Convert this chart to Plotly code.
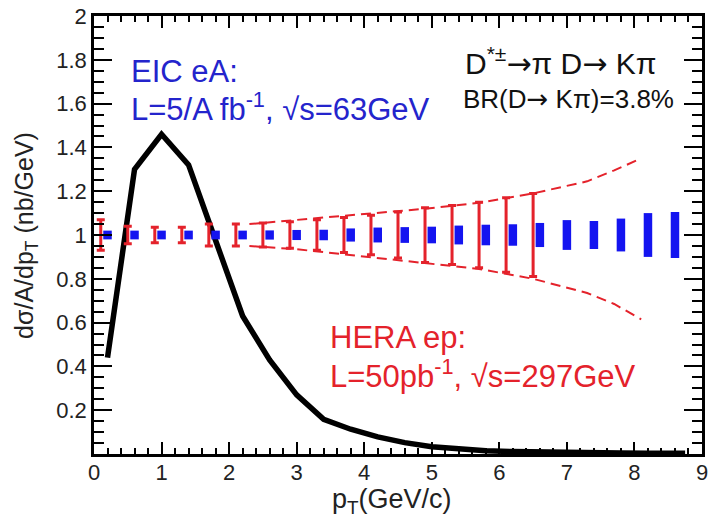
import plotly.graph_objects as go

# ---- data ----
curve_pt = [0.2, 0.6, 1.0, 1.4, 1.8, 2.2, 2.6, 3.0, 3.4, 3.8, 4.2, 4.6, 5.0, 5.4,
            5.8, 6.2, 6.6, 7.0, 7.4, 7.8, 8.2, 8.6, 8.75]
curve_xs = [0.44, 1.30, 1.46, 1.32, 0.975, 0.63, 0.43, 0.27, 0.158, 0.113, 0.078,
            0.052, 0.033, 0.022, 0.015, 0.011, 0.008, 0.006, 0.005, 0.004, 0.003,
            0.003, 0.003]

eic_pt = [0.2, 0.6, 1.0, 1.4, 1.8, 2.2, 2.6, 3.0, 3.4, 3.8, 4.2, 4.6, 5.0, 5.4,
          5.8, 6.2, 6.6, 7.0, 7.4, 7.8, 8.2, 8.6]
eic_val = [1.0] * 22
eic_err = [0.02, 0.02, 0.02, 0.02, 0.02, 0.02, 0.021, 0.023, 0.024, 0.03, 0.034,
           0.036, 0.038, 0.043, 0.047, 0.049, 0.055, 0.068, 0.064, 0.075, 0.1, 0.105]

hera_pt = [0.1, 0.5, 0.9, 1.3, 1.7, 2.1, 2.5, 2.9, 3.3, 3.7, 4.1, 4.5, 4.9, 5.3,
           5.7, 6.1, 6.5]
hera_val = [1.0] * 17
hera_err = [0.07, 0.04, 0.035, 0.035, 0.05, 0.05, 0.055, 0.06, 0.07, 0.08, 0.09,
            0.105, 0.125, 0.135, 0.15, 0.17, 0.19]

env_pt = [2.3, 3.0, 3.9, 4.9, 5.7, 6.5, 7.3, 7.7, 8.1]
env_up = [1.05, 1.068, 1.093, 1.12, 1.147, 1.19, 1.245, 1.295, 1.35]
env_lo = [0.95, 0.935, 0.905, 0.873, 0.845, 0.80, 0.735, 0.685, 0.615]

y_ticks = [0.2, 0.4, 0.6, 0.8, 1.0, 1.2, 1.4, 1.6, 1.8, 2.0]
y_ticktext = ["0.2", "0.4", "0.6", "0.8", "1", "1.2", "1.4", "1.6", "1.8", "2"]
x_ticks = [0, 1, 2, 3, 4, 5, 6, 7, 8, 9]

RED = "#e4222b"
BLUE = "#1414f0"
BLUE_TXT = "#2424cc"
FONT = "Liberation Sans, Arial, sans-serif"
ARROW = '<span style="font-family:DejaVu Sans">→</span>'

fig = go.Figure()

fig.add_trace(go.Scatter(x=curve_pt, y=curve_xs, mode="lines",
                         line=dict(color="black", width=5.5), hoverinfo="skip"))

fig.add_trace(go.Scatter(x=env_pt, y=env_up, mode="lines",
                         line=dict(color=RED, width=2, dash="10px,6px")))
fig.add_trace(go.Scatter(x=env_pt, y=env_lo, mode="lines",
                         line=dict(color=RED, width=2, dash="10px,6px")))

fig.add_trace(go.Scatter(x=hera_pt, y=hera_val, mode="markers",
                         marker=dict(size=1, color=RED, opacity=0),
                         error_y=dict(type="data", array=hera_err, color=RED,
                                      thickness=3, width=4)))

fig.add_trace(go.Scatter(x=eic_pt, y=eic_val, mode="markers",
                         marker=dict(size=1, color=BLUE, opacity=0),
                         error_y=dict(type="data", array=eic_err, color=BLUE,
                                      thickness=8.5, width=0)))

axis_common = dict(showline=True, linecolor="black", linewidth=2.5, mirror="allticks",
                   ticks="inside", tickcolor="black", tickwidth=2,
                   showgrid=False, zeroline=False,
                   tickfont=dict(family=FONT, size=22, color="#222222"))

fig.update_xaxes(range=[0, 9], tickvals=x_ticks, ticklen=12, ticklabelstandoff=-3,
                 minor=dict(ticks="inside", dtick=0.2, tick0=0, ticklen=6,
                            tickwidth=2, tickcolor="black"),
                 **axis_common)
fig.update_yaxes(range=[0, 2], tickvals=y_ticks, ticktext=y_ticktext, ticklen=18,
                 minor=dict(ticks="inside", dtick=0.05, tick0=0, ticklen=10,
                            tickwidth=2, tickcolor="black"),
                 **axis_common)

ann = []
ann.append(dict(text="dσ/A/dp<sub>T</sub> (nb/GeV)", xref="paper", yref="paper",
                x=-0.112, y=0.5, xanchor="center", yanchor="middle", textangle=-90,
                showarrow=False, font=dict(family=FONT, size=25, color="#222222")))
ann.append(dict(text="p<sub>T</sub>(GeV/c)", xref="paper", yref="paper",
                x=0.49, y=-0.107, xanchor="center", yanchor="middle",
                showarrow=False, font=dict(family=FONT, size=27, color="#222222")))
ann.append(dict(text="EIC eA:", xref="x", yref="y", x=0.52, y=1.745,
                xanchor="left", yanchor="middle", showarrow=False,
                font=dict(family=FONT, size=31, color=BLUE_TXT)))
ann.append(dict(text="L=5/A fb<sup>-1</sup>, √s=63GeV", xref="x", yref="y",
                x=0.52, y=1.585, xanchor="left", yanchor="middle", showarrow=False,
                font=dict(family=FONT, size=31, color=BLUE_TXT)))
ann.append(dict(text="D<sup>*±</sup>" + ARROW + "π D" + ARROW + " Kπ", xref="x", yref="y",
                x=8.35, y=1.79, xanchor="right", yanchor="middle", showarrow=False,
                font=dict(family=FONT, size=30, color="#111111")))
ann.append(dict(text="BR(D" + ARROW + " Kπ)=3.8%", xref="x", yref="y",
                x=8.62, y=1.62, xanchor="right", yanchor="middle", showarrow=False,
                font=dict(family=FONT, size=26, color="#111111")))
ann.append(dict(text="HERA ep:", xref="x", yref="y", x=3.47, y=0.53,
                xanchor="left", yanchor="middle", showarrow=False,
                font=dict(family=FONT, size=31, color=RED)))
ann.append(dict(text="L=50pb<sup>-1</sup>, √s=297GeV", xref="x", yref="y",
                x=3.47, y=0.365, xanchor="left", yanchor="middle", showarrow=False,
                font=dict(family=FONT, size=31, color=RED)))

fig.update_layout(width=712, height=518, margin=dict(l=94, r=4, t=14, b=64),
                  paper_bgcolor="white", plot_bgcolor="white", showlegend=False,
                  annotations=ann)

fig.write_html("out.html")
